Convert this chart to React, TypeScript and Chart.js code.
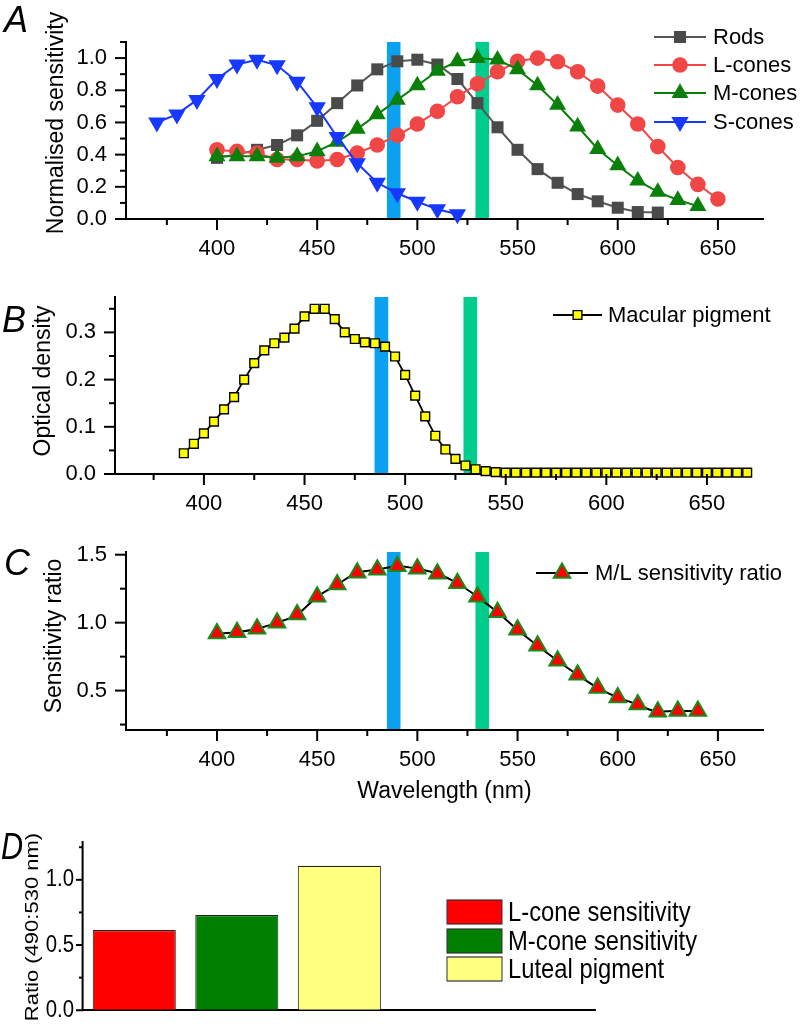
import React, { useEffect, useRef } from 'react';
import { Chart, registerables } from 'chart.js';

Chart.register(...registerables);

const SANS = '"Liberation Sans", Arial, Helvetica, sans-serif';

// ---------------- Panel A: normalised sensitivity ----------------
const rodsWavelengths = [400, 410, 420, 430, 440, 450, 460, 470, 480, 490, 500, 510, 520, 530, 540, 550, 560, 570, 580, 590, 600, 610, 620];
const rodsValues = [0.38, 0.4, 0.43, 0.46, 0.52, 0.61, 0.72, 0.83, 0.93, 0.98, 0.99, 0.96, 0.87, 0.72, 0.57, 0.43, 0.31, 0.225, 0.155, 0.11, 0.07, 0.043, 0.04];

const lConeWavelengths = [400, 410, 420, 430, 440, 450, 460, 470, 480, 490, 500, 510, 520, 530, 540, 550, 560, 570, 580, 590, 600, 610, 620, 630, 640, 650];
const lConeValues = [0.43, 0.42, 0.41, 0.37, 0.37, 0.36, 0.37, 0.41, 0.46, 0.52, 0.59, 0.67, 0.76, 0.84, 0.915, 0.98, 1.0, 0.977, 0.915, 0.826, 0.708, 0.59, 0.45, 0.32, 0.215, 0.124];

const mConeWavelengths = [400, 410, 420, 430, 440, 450, 460, 470, 480, 490, 500, 510, 520, 530, 540, 550, 560, 570, 580, 590, 600, 610, 620, 630, 640];
const mConeValues = [0.39, 0.39, 0.39, 0.38, 0.39, 0.42, 0.48, 0.56, 0.65, 0.74, 0.83, 0.92, 0.98, 1.0, 0.99, 0.93, 0.83, 0.71, 0.575, 0.435, 0.333, 0.238, 0.168, 0.118, 0.08];

const sConeWavelengths = [370, 380, 390, 400, 410, 420, 430, 440, 450, 460, 470, 480, 490, 500, 510, 520];
const sConeValues = [0.6, 0.65, 0.74, 0.87, 0.96, 0.99, 0.955, 0.853, 0.694, 0.51, 0.346, 0.225, 0.16, 0.107, 0.06, 0.03];

// ---------------- Panel B: macular pigment optical density ----------------
const macularWavelengths = [390, 395, 400, 405, 410, 415, 420, 425, 430, 435, 440, 445, 450, 455, 460, 465, 470, 475, 480, 485, 490, 495, 500, 505, 510, 515, 520, 525, 530, 535, 540, 545, 550, 555, 560, 565, 570, 575, 580, 585, 590, 595, 600, 605, 610, 615, 620, 625, 630, 635, 640, 645, 650, 655, 660, 665, 670];
const macularDensity = [0.044, 0.064, 0.086, 0.111, 0.137, 0.163, 0.2, 0.235, 0.262, 0.277, 0.289, 0.308, 0.334, 0.35, 0.35, 0.328, 0.3, 0.286, 0.279, 0.277, 0.27, 0.249, 0.21, 0.166, 0.122, 0.081, 0.052, 0.032, 0.018, 0.01, 0.006, 0.004, 0.003, 0.003, 0.003, 0.003, 0.003, 0.003, 0.003, 0.003, 0.003, 0.003, 0.003, 0.003, 0.003, 0.003, 0.003, 0.003, 0.003, 0.003, 0.003, 0.003, 0.003, 0.003, 0.003, 0.003, 0.003];

// ---------------- Panel C: M/L sensitivity ratio ----------------
const ratioWavelengths = [400, 410, 420, 430, 440, 450, 460, 470, 480, 490, 500, 510, 520, 530, 540, 550, 560, 570, 580, 590, 600, 610, 620, 630, 640];
const mlRatioValues = [0.92, 0.93, 0.955, 1.0, 1.06, 1.19, 1.28, 1.367, 1.39, 1.416, 1.397, 1.36, 1.29, 1.19, 1.076, 0.948, 0.83, 0.72, 0.616, 0.52, 0.45, 0.397, 0.345, 0.35, 0.35];

// ---------------- Panel D: 490:530 nm ratios ----------------
const dCategories = ['L-cone', 'M-cone', 'Luteal', '', ''];
const dLabels = ['L-cone sensitivity', 'M-cone sensitivity', 'Luteal pigment'];
const dValues = [0.615, 0.73, 1.107];
const dColors = ['#ff0000', '#008000', '#ffff80'];

// ---------------- Stimulus bands and ticks ----------------
const bandRanges = [[484.8, 491.6], [529, 535.8]];
const bandColors = ['rgb(12,160,240)', 'rgb(0,204,140)'];

const xMajorTicks = [400, 450, 500, 550, 600, 650];
const xMinorTicks = [375, 425, 475, 525, 575, 625];
const aYMajor = [0, 0.2, 0.4, 0.6, 0.8, 1.0];
const aYMinor = [0.1, 0.3, 0.5, 0.7, 0.9, 1.1];
const bYMajor = [0, 0.1, 0.2, 0.3];
const bYMinor = [0.05, 0.15, 0.25, 0.35];
const cYMajor = [0.5, 1.0, 1.5];
const cYMinor = [0.25, 0.75, 1.25];
const dYMajor = [0, 0.5, 1.0];
const dYMinor = [0.25, 0.75, 1.25];

// horizontal compression of panel D (its lettering is narrower than the others)
const D_SQUEEZE = 0.85;

// ---------------- helpers ----------------
function drawMarker(ctx: CanvasRenderingContext2D, style: string, x: number, y: number, r: number, rot: number, fill: string, stroke: string, bw: number) {
  ctx.save();
  ctx.beginPath();
  if (style === 'circle') {
    ctx.arc(x, y, r, 0, Math.PI * 2);
  } else if (style === 'rect') {
    const h = r * Math.SQRT1_2;
    ctx.rect(x - h, y - h, 2 * h, 2 * h);
  } else {
    let a = (rot * Math.PI) / 180;
    ctx.moveTo(x + Math.sin(a) * r, y - Math.cos(a) * r);
    a += (2 * Math.PI) / 3;
    ctx.lineTo(x + Math.sin(a) * r, y - Math.cos(a) * r);
    a += (2 * Math.PI) / 3;
    ctx.lineTo(x + Math.sin(a) * r, y - Math.cos(a) * r);
    ctx.closePath();
  }
  ctx.fillStyle = fill;
  ctx.fill();
  if (bw > 0) {
    ctx.lineWidth = bw;
    ctx.strokeStyle = stroke;
    ctx.stroke();
  }
  ctx.restore();
}

function tickMarksPlugin(cfg: { xMajor: number[]; xMinor: number[]; yMajor: number[]; yMinor: number[]; majorLen: number; minorLen: number }) {
  return {
    id: 'tickMarks',
    afterDraw(chart: any) {
      const ctx = chart.ctx;
      const { left, bottom } = chart.chartArea;
      ctx.save();
      ctx.strokeStyle = '#000';
      ctx.lineWidth = 2;
      const xs = chart.scales.x;
      const ys = chart.scales.y;
      const dx = (v: number, len: number) => {
        const p = xs.getPixelForValue(v);
        ctx.beginPath();
        ctx.moveTo(p, bottom);
        ctx.lineTo(p, bottom + len);
        ctx.stroke();
      };
      const dy = (v: number, len: number) => {
        const p = ys.getPixelForValue(v);
        ctx.beginPath();
        ctx.moveTo(left, p);
        ctx.lineTo(left - len, p);
        ctx.stroke();
      };
      cfg.xMajor.forEach((v) => dx(v, cfg.majorLen));
      cfg.xMinor.forEach((v) => dx(v, cfg.minorLen));
      cfg.yMajor.forEach((v) => dy(v, cfg.majorLen));
      cfg.yMinor.forEach((v) => dy(v, cfg.minorLen));
      ctx.restore();
    },
  };
}

function bandsPlugin() {
  return {
    id: 'bands',
    beforeDatasetsDraw(chart: any) {
      const ctx = chart.ctx;
      const { top, bottom } = chart.chartArea;
      const xs = chart.scales.x;
      ctx.save();
      bandRanges.forEach((r, i) => {
        const a = xs.getPixelForValue(r[0]);
        const b = xs.getPixelForValue(r[1]);
        ctx.fillStyle = bandColors[i];
        ctx.fillRect(a, top, b - a, bottom - top - 1);
      });
      ctx.restore();
    },
  };
}

type TitleItem = { text: string; x: number; y: number; rot: number; font: string };

function titlesPlugin(items: TitleItem[]) {
  return {
    id: 'axisTitles',
    afterDraw(chart: any) {
      const ctx = chart.ctx;
      items.forEach((t) => {
        ctx.save();
        ctx.translate(t.x, t.y);
        ctx.rotate(t.rot);
        ctx.font = t.font;
        ctx.fillStyle = '#000';
        ctx.textAlign = 'center';
        ctx.textBaseline = 'middle';
        ctx.fillText(t.text, 0, 0);
        ctx.restore();
      });
    },
  };
}

function lineLegendPlugin(cfg: { x0: number; x1: number; textX: number; ys: number[]; font: string }) {
  return {
    id: 'lineLegend',
    afterDraw(chart: any) {
      const ctx = chart.ctx;
      chart.data.datasets.forEach((ds: any, i: number) => {
        const y = cfg.ys[i];
        ctx.save();
        ctx.strokeStyle = ds.borderColor;
        ctx.lineWidth = ds.borderWidth;
        ctx.beginPath();
        ctx.moveTo(cfg.x0, y);
        ctx.lineTo(cfg.x1, y);
        ctx.stroke();
        drawMarker(ctx, ds.pointStyle, (cfg.x0 + cfg.x1) / 2, y, ds.pointRadius, ds.pointRotation || 0, ds.pointBackgroundColor, ds.pointBorderColor, ds.pointBorderWidth || 0);
        ctx.fillStyle = '#000';
        ctx.font = cfg.font;
        ctx.textBaseline = 'middle';
        ctx.textAlign = 'left';
        ctx.fillText(ds.label, cfg.textX, y + 1);
        ctx.restore();
      });
    },
  };
}

function boxLegendPlugin(cfg: { x0: number; w: number; h: number; textX: number; ys: number[]; font: string }) {
  return {
    id: 'boxLegend',
    afterDraw(chart: any) {
      const ctx = chart.ctx;
      chart.data.datasets.forEach((ds: any, i: number) => {
        const y = cfg.ys[i];
        ctx.save();
        ctx.fillStyle = ds.backgroundColor;
        ctx.fillRect(cfg.x0, y - cfg.h / 2, cfg.w, cfg.h);
        ctx.strokeStyle = '#333';
        ctx.lineWidth = 1.2;
        ctx.strokeRect(cfg.x0, y - cfg.h / 2, cfg.w, cfg.h);
        ctx.fillStyle = '#000';
        ctx.font = cfg.font;
        ctx.textBaseline = 'middle';
        ctx.textAlign = 'left';
        ctx.fillText(ds.label, cfg.textX, y + 1);
        ctx.restore();
      });
    },
  };
}

function squeezeStart(k: number) {
  return {
    id: 'squeezeStart',
    beforeDraw(chart: any) {
      chart.ctx.save();
      chart.ctx.scale(k, 1);
    },
  };
}
const squeezeEnd = {
  id: 'squeezeEnd',
  afterDraw(chart: any) {
    chart.ctx.restore();
  },
};

type Plot = { left: number; top: number; right: number; bottom: number };

function xyData(xs: number[], ys: number[]) {
  return xs.map((x, i) => ({ x, y: ys[i] }));
}

const TICK_FONT = { family: SANS, size: 22 };
const TITLE_FONT = `23px ${SANS}`;
const LEGEND_FONT = `22px ${SANS}`;

function lineConfig(p: {
  canvasTop: number;
  canvasH: number;
  plot: Plot;
  xMin: number;
  xMax: number;
  yMin: number;
  yMax: number;
  yMajor: number[];
  yMinor: number[];
  titles: TitleItem[];
  datasets: any[];
  legend: { x0: number; x1: number; textX: number; ys: number[] };
}) {
  const plotTop = p.plot.top - p.canvasTop;
  const plotBottom = p.plot.bottom - p.canvasTop;
  return {
    type: 'line',
    data: { datasets: p.datasets },
    options: {
      responsive: false,
      animation: false,
      events: [],
      layout: { padding: { left: 0, top: plotTop, right: 800 - p.plot.right, bottom: 0 } },
      plugins: { legend: { display: false }, tooltip: { enabled: false } },
      scales: {
        x: {
          type: 'linear',
          min: p.xMin,
          max: p.xMax,
          afterBuildTicks: (s: any) => {
            s.ticks = xMajorTicks.map((v) => ({ value: v }));
          },
          afterFit: (s: any) => {
            s.height = p.canvasH - plotBottom;
          },
          ticks: { autoSkip: false, maxRotation: 0, padding: 6, font: TICK_FONT, color: '#000', callback: (v: any) => String(v) },
          grid: { display: true, drawOnChartArea: false, drawTicks: true, tickLength: 11, tickColor: 'rgba(0,0,0,0)' },
          border: { display: true, color: '#000', width: 2 },
        },
        y: {
          type: 'linear',
          min: p.yMin,
          max: p.yMax,
          afterBuildTicks: (s: any) => {
            s.ticks = p.yMajor.map((v) => ({ value: v }));
          },
          afterFit: (s: any) => {
            s.width = p.plot.left;
          },
          ticks: { autoSkip: false, padding: 8, font: TICK_FONT, color: '#000', callback: (v: any) => Number(v).toFixed(1) },
          grid: { display: true, drawOnChartArea: false, drawTicks: true, tickLength: 11, tickColor: 'rgba(0,0,0,0)' },
          border: { display: true, color: '#000', width: 2 },
        },
      },
    },
    plugins: [
      bandsPlugin(),
      tickMarksPlugin({ xMajor: xMajorTicks, xMinor: xMinorTicks, yMajor: p.yMajor, yMinor: p.yMinor, majorLen: 11, minorLen: 6 }),
      lineLegendPlugin({ ...p.legend, font: LEGEND_FONT }),
      titlesPlugin(p.titles),
    ],
  };
}

function configA() {
  const common = { borderWidth: 2, tension: 0, clip: false, pointBorderWidth: 0 };
  return lineConfig({
    canvasTop: 0,
    canvasH: 262,
    plot: { left: 126, top: 42, right: 763, bottom: 219 },
    xMin: 354.6,
    xMax: 672.5,
    yMin: 0,
    yMax: 1.1,
    yMajor: aYMajor,
    yMinor: aYMinor,
    titles: [{ text: 'Normalised sensitivity', x: 57, y: 123, rot: -Math.PI / 2, font: TITLE_FONT }],
    legend: { x0: 654, x1: 706, textX: 713, ys: [37, 65, 93, 122] },
    datasets: [
      {
        ...common,
        label: 'Rods',
        data: xyData(rodsWavelengths, rodsValues),
        borderColor: '#575757',
        pointStyle: 'rect',
        pointRadius: 8.5,
        pointBackgroundColor: '#4a4a4a',
        pointBorderColor: '#4a4a4a',
        order: 3,
      },
      {
        ...common,
        label: 'L-cones',
        data: xyData(lConeWavelengths, lConeValues),
        borderColor: '#f04646',
        pointStyle: 'circle',
        pointRadius: 7.8,
        pointBackgroundColor: '#f04646',
        pointBorderColor: '#f04646',
        order: 2,
      },
      {
        ...common,
        label: 'M-cones',
        data: xyData(mConeWavelengths, mConeValues),
        borderColor: '#0a800a',
        pointStyle: 'triangle',
        pointRadius: 9.8,
        pointBackgroundColor: '#0a800a',
        pointBorderColor: '#0a800a',
        order: 1,
      },
      {
        ...common,
        label: 'S-cones',
        data: xyData(sConeWavelengths, sConeValues),
        borderColor: '#1638ff',
        pointStyle: 'triangle',
        pointRotation: 180,
        pointRadius: 10,
        pointBackgroundColor: '#1638ff',
        pointBorderColor: '#1638ff',
        order: 0,
      },
    ],
  });
}

function configB() {
  return lineConfig({
    canvasTop: 262,
    canvasH: 268,
    plot: { left: 115, top: 297, right: 751, bottom: 474 },
    xMin: 355.8,
    xMax: 671.9,
    yMin: 0,
    yMax: 0.375,
    yMajor: bYMajor,
    yMinor: bYMinor,
    titles: [{ text: 'Optical density', x: 44, y: 381 - 262, rot: -Math.PI / 2, font: TITLE_FONT }],
    legend: { x0: 553, x1: 602, textX: 608, ys: [315 - 262] },
    datasets: [
      {
        label: 'Macular pigment',
        data: xyData(macularWavelengths, macularDensity),
        borderColor: '#000',
        borderWidth: 1.8,
        tension: 0,
        clip: false,
        pointStyle: 'rect',
        pointRadius: 6.2,
        pointBackgroundColor: '#ffff00',
        pointBorderColor: '#000',
        pointBorderWidth: 1.4,
      },
    ],
  });
}

function configC() {
  return lineConfig({
    canvasTop: 530,
    canvasH: 290,
    plot: { left: 126, top: 552, right: 763, bottom: 730 },
    xMin: 354.6,
    xMax: 672.5,
    yMin: 0.21,
    yMax: 1.52,
    yMajor: cYMajor,
    yMinor: cYMinor,
    titles: [
      { text: 'Sensitivity ratio', x: 55, y: 636 - 530, rot: -Math.PI / 2, font: TITLE_FONT },
      { text: 'Wavelength (nm)', x: 444.5, y: 792 - 530, rot: 0, font: TITLE_FONT },
    ],
    legend: { x0: 536, x1: 588, textX: 595, ys: [573 - 530] },
    datasets: [
      {
        label: 'M/L sensitivity ratio',
        data: xyData(ratioWavelengths, mlRatioValues),
        borderColor: '#000',
        borderWidth: 2,
        tension: 0.4,
        cubicInterpolationMode: 'monotone',
        clip: false,
        pointStyle: 'triangle',
        pointRadius: 9.5,
        pointBackgroundColor: '#ff0000',
        pointBorderColor: '#1a8a1a',
        pointBorderWidth: 2,
      },
    ],
  });
}

// panel D is laid out in a wider logical space and squeezed horizontally to fit 800px
function configD() {
  const k = D_SQUEEZE;
  const canvasTop = 820;
  const canvasH = 207;
  const logicalW = 800 / k;
  const plot = { left: 83 / k, top: 842, right: 595 / k, bottom: 1019 };
  return {
    type: 'bar',
    data: {
      labels: dCategories,
      datasets: dValues.map((v, i) => ({
        label: dLabels[i],
        data: dCategories.map((_, j) => (j === i ? v : null)),
        backgroundColor: dColors[i],
        borderColor: '#222',
        borderWidth: 1.2,
        grouped: false,
        barPercentage: 0.81,
        categoryPercentage: 1,
      })),
    },
    options: {
      responsive: false,
      animation: false,
      events: [],
      layout: { padding: { left: 0, top: plot.top - canvasTop, right: logicalW - plot.right, bottom: 0 } },
      plugins: { legend: { display: false }, tooltip: { enabled: false } },
      scales: {
        x: {
          type: 'category',
          offset: true,
          afterFit: (s: any) => {
            s.height = canvasH - (plot.bottom - canvasTop);
          },
          ticks: { display: false },
          grid: { display: false },
          border: { display: true, color: '#000', width: 2 },
        },
        y: {
          type: 'linear',
          min: 0,
          max: 1.29,
          afterBuildTicks: (s: any) => {
            s.ticks = dYMajor.map((v) => ({ value: v }));
          },
          afterFit: (s: any) => {
            s.width = plot.left;
          },
          ticks: { autoSkip: false, padding: 2 / k, font: { family: SANS, size: 24 }, color: '#000', callback: (v: any) => Number(v).toFixed(1) },
          grid: { display: true, drawOnChartArea: false, drawTicks: true, tickLength: 7 / k, tickColor: 'rgba(0,0,0,0)' },
          border: { display: true, color: '#000', width: 2 / k },
        },
      },
    },
    plugins: [
      squeezeStart(k),
      tickMarksPlugin({ xMajor: [], xMinor: [], yMajor: dYMajor, yMinor: dYMinor, majorLen: 7 / k, minorLen: 4 / k }),
      boxLegendPlugin({ x0: 447 / k, w: 55 / k, h: 24, textX: 508 / k, ys: [912 - 820, 941 - 820, 969 - 820], font: `28px ${SANS}` }),
      titlesPlugin([{ text: 'Ratio (490:530 nm)', x: 33 / k, y: 927 - 820, rot: -Math.PI / 2, font: `22px ${SANS}` }]),
      squeezeEnd,
    ],
  };
}

function ChartCanvas({ top, width, height, build }: { top: number; width: number; height: number; build: () => any }) {
  const ref = useRef<HTMLCanvasElement>(null);
  useEffect(() => {
    const chart = new Chart(ref.current as HTMLCanvasElement, build());
    return () => chart.destroy();
  }, []);
  return (
    <canvas
      ref={ref}
      width={width}
      height={height}
      style={{ position: 'absolute', left: 0, top, width, height, display: 'block' }}
    />
  );
}

const letterStyle: React.CSSProperties = {
  position: 'absolute',
  fontFamily: SANS,
  fontStyle: 'italic',
  fontSize: 36,
  lineHeight: '36px',
  color: '#000',
  margin: 0,
};

export default function App() {
  return (
    <div style={{ position: 'absolute', left: 0, top: 0, width: 800, height: 1027, background: '#fff', overflow: 'hidden' }}>
      <ChartCanvas top={0} width={800} height={262} build={configA} />
      <ChartCanvas top={262} width={800} height={268} build={configB} />
      <ChartCanvas top={530} width={800} height={290} build={configC} />
      <ChartCanvas top={820} width={Math.ceil(800 / D_SQUEEZE)} height={207} build={configD} />
      <div style={{ ...letterStyle, left: 4, top: 2 }}>A</div>
      <div style={{ ...letterStyle, left: 2, top: 302 }}>B</div>
      <div style={{ ...letterStyle, left: 4, top: 545 }}>C</div>
      <div style={{ ...letterStyle, left: 1, top: 829, transform: `scaleX(${D_SQUEEZE})`, transformOrigin: 'left top' }}>D</div>
    </div>
  );
}
